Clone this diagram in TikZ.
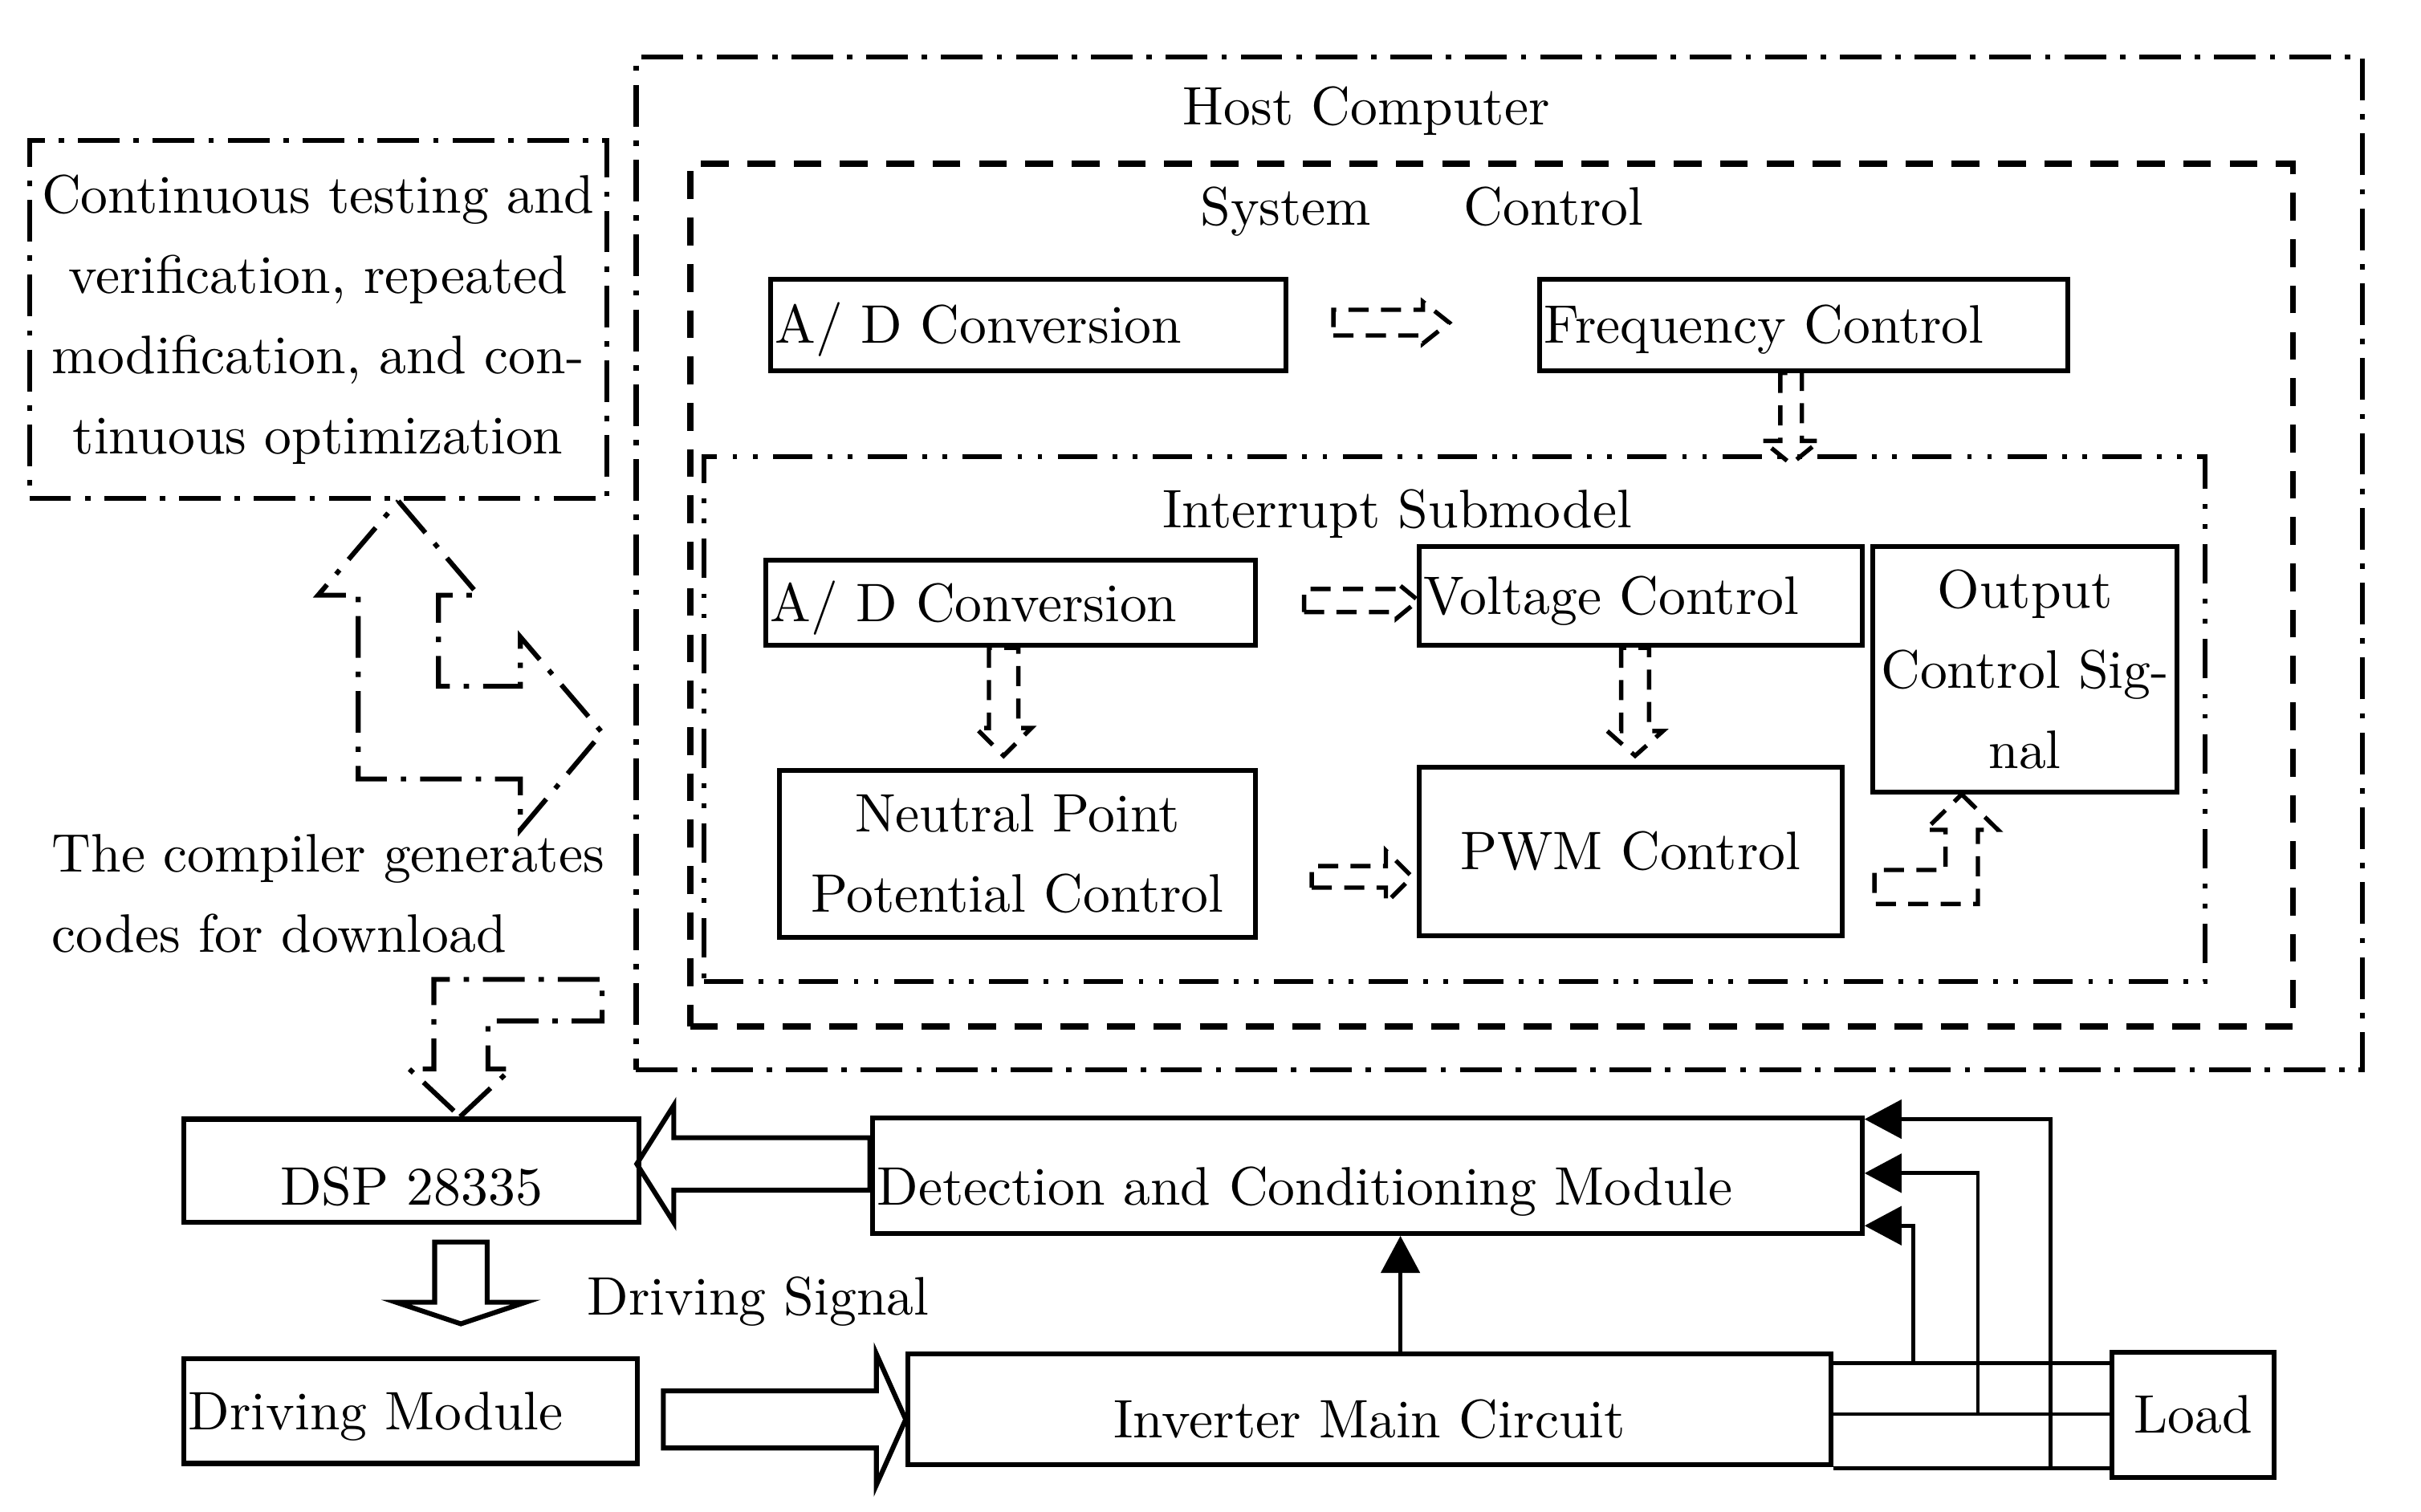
\documentclass[tikz,border=0pt]{standalone}
\usepackage{tikz}
\usetikzlibrary{calc,arrows.meta,positioning}

\tikzset{
  box/.style={draw, line width=0.9pt, inner sep=0pt, align=center},
  lbox/.style={box, align=left, inner xsep=0.03cm},
  capline/.style={text height=#1, text depth=0pt},
  capline/.default=0.24cm,
  hostline/.style={line width=0.9pt, dash pattern=on 2.7mm off 0.9mm on 0.35mm off 0.9mm},
  sysline/.style={line width=1.1pt, dash pattern=on 1.8mm off 1.2mm},
  intline/.style={line width=0.9pt, dash pattern=on 2.55mm off 1mm on 0.3mm off 1mm on 0.3mm off 1mm},
  hollow/.style={line width=0.8pt, dash pattern=on 1.3mm off 0.8mm},
  solidarrow/.style={line width=0.9pt},
  wire/.style={line width=0.7pt},
  fb/.style={wire, -{Triangle[length=2.4mm,width=2.5mm]}}
}

% style, tail, direction, length, shaft half width, head half width, head length
\newcommand{\blockarrow}[7]{%
  \draw[#1, shift={#2}, rotate=#3] (0,-#5) -- ({#4-#7},-#5) -- ({#4-#7},-#6) -- (#4,0)
    -- ({#4-#7},#6) -- ({#4-#7},#5) -- (0,#5) -- cycle;}

\begin{document}
\begin{tikzpicture}[font=\fontsize{10}{14.8}\selectfont]
\useasboundingbox (0,0) rectangle (15.68,-9.79);

% host computer
\node[draw, hostline, minimum width=11.18cm, minimum height=6.56cm] (host) at (9.71,-3.65) {};
\node (hosttxt) at (8.85,-0.72) {Host Computer};
\node[draw, sysline, minimum width=10.38cm, minimum height=5.59cm] (sys) at (9.66,-3.855) {};
\node (systxt) at (9.21,-1.37) {System\hspace{0.6cm}Control};
\node[lbox, capline, text width=3.28cm, minimum height=0.59cm] (adA) at (6.66,-2.105) {A/ D Conversion};
\node[lbox, capline, text width=3.36cm, minimum height=0.59cm] (freq) at (11.68,-2.105) {Frequency Control};

\node[draw, intline, minimum width=9.72cm, minimum height=3.40cm] (intr) at (9.42,-4.66) {};
\node (inttxt) at (9.05,-3.33) {Interrupt Submodel};
\node[lbox, capline, text width=3.11cm, minimum height=0.55cm] (adB) at (6.545,-3.905) {A/ D Conversion};
\node[lbox, capline, text width=2.81cm, minimum height=0.64cm] (volt) at (10.625,-3.86) {Voltage Control};
\node[box, minimum width=1.97cm, minimum height=1.59cm] (outc) at (13.115,-4.335) {Output\\Control Sig-\\nal};
\node[box, minimum width=3.08cm, minimum height=1.08cm] (npc) at (6.59,-5.53) {Neutral Point\\Potential Control};
\node[box, capline, minimum width=2.74cm, minimum height=1.09cm] (pwm) at (10.56,-5.515) {PWM Control};

\blockarrow{hollow}{($(adA.east)+(0.29,0.015)$)}{0}{0.75}{0.083}{0.135}{0.17}
\blockarrow{hollow}{($(freq.south)+(-0.08,0)$)}{-90}{0.59}{0.07}{0.185}{0.15}
\blockarrow{hollow}{($(adB.east)+(0.30,0.015)$)}{0}{0.74}{0.075}{0.115}{0.14}
\blockarrow{hollow}{($(adB.south)+(-0.045,0)$)}{-90}{0.70}{0.095}{0.18}{0.18}
\blockarrow{hollow}{($(volt.south)+(-0.035,0)$)}{-90}{0.70}{0.09}{0.18}{0.16}
\blockarrow{hollow}{($(npc.east)+(0.35,-0.15)$)}{0}{0.65}{0.07}{0.17}{0.17}
\draw[hollow] ($(outc.south)+(-0.41,0)$) -- ++(0.235,-0.23) -- ++(-0.13,0) -- ++(0,-0.48)
  -- ++(-0.67,0) -- ++(0,0.22) -- ++(0.46,0) -- ++(0,0.26) -- ++(-0.13,0) -- cycle;

% left side
\node[box, hostline, minimum width=3.74cm, minimum height=2.32cm] (cont) at (2.06,-2.07)
  {Continuous testing and\\verification, repeated\\modification, and con-\\tinuous optimization};
\draw[hostline] ($(cont.south)+(0.52,0)$) -- ++(0.52,-0.61) -- ++(-0.26,0) -- ++(0,-0.59)
  -- ++(0.53,0) -- ++(0,0.32) -- ++(0.53,-0.62) -- ++(-0.53,-0.63) -- ++(0,0.33)
  -- ++(-1.05,0) -- ++(0,1.19) -- ++(-0.26,0) -- cycle;
\node[align=left, anchor=west, inner sep=0pt] (cmp) at (0.33,-5.79) {The compiler generates\\codes for download};

% target board
\node[box, capline=0.44cm, minimum width=2.95cm, minimum height=0.67cm] (dsp) at (2.665,-7.585) {DSP 28335};
\node[lbox, capline=0.38cm, text width=6.35cm, minimum height=0.75cm] (det) at (8.855,-7.615) {Detection and Conditioning Module};
\node[lbox, capline, text width=2.88cm, minimum height=0.68cm] (drv) at (2.66,-9.14) {Driving Module};
\node[box, capline=0.37cm, minimum width=5.98cm, minimum height=0.72cm] (inv) at (8.87,-9.13) {Inverter Main Circuit};
\node[box, capline, minimum width=1.05cm, minimum height=0.81cm] (load) at (14.205,-9.165) {Load};
\node (drvsig) at (4.91,-8.43) {Driving Signal};

\draw[hostline] ($(dsp.north)+(0.315,0)$) -- ++(0.33,0.31) -- ++(-0.15,0) -- ++(0,0.31)
  -- ++(0.74,0) -- ++(0,0.27) -- ++(-1.09,0) -- ++(0,-0.58) -- ++(-0.16,0) -- cycle;
\blockarrow{solidarrow}{($(det.west)+(0,0.075)$)}{180}{1.51}{0.17}{0.38}{0.24}
\blockarrow{solidarrow}{($(dsp.south)+(0.32,-0.11)$)}{-90}{0.53}{0.17}{0.42}{0.14}
\blockarrow{solidarrow}{($(drv.east)+(0.15,-0.055)$)}{0}{1.57}{0.185}{0.425}{0.19}

\coordinate (j1) at (12.39,-8.83);
\coordinate (j2) at (12.81,-9.16);
\coordinate (j3) at (13.28,-9.51);
\draw[wire] (inv.east |- j1) -- (load.west |- j1);
\draw[wire] (inv.east |- j2) -- (load.west |- j2);
\draw[wire] (inv.east |- j3) -- (load.west |- j3);
\draw[fb] (j1) |- (det.east |- 0,-7.94);
\draw[fb] (j2) |- (det.east |- 0,-7.60);
\draw[fb] (j3) |- (det.east |- 0,-7.25);
\draw[fb] (inv.north -| 9.07,0) -- (det.south -| 9.07,0);
\end{tikzpicture}
\end{document}
